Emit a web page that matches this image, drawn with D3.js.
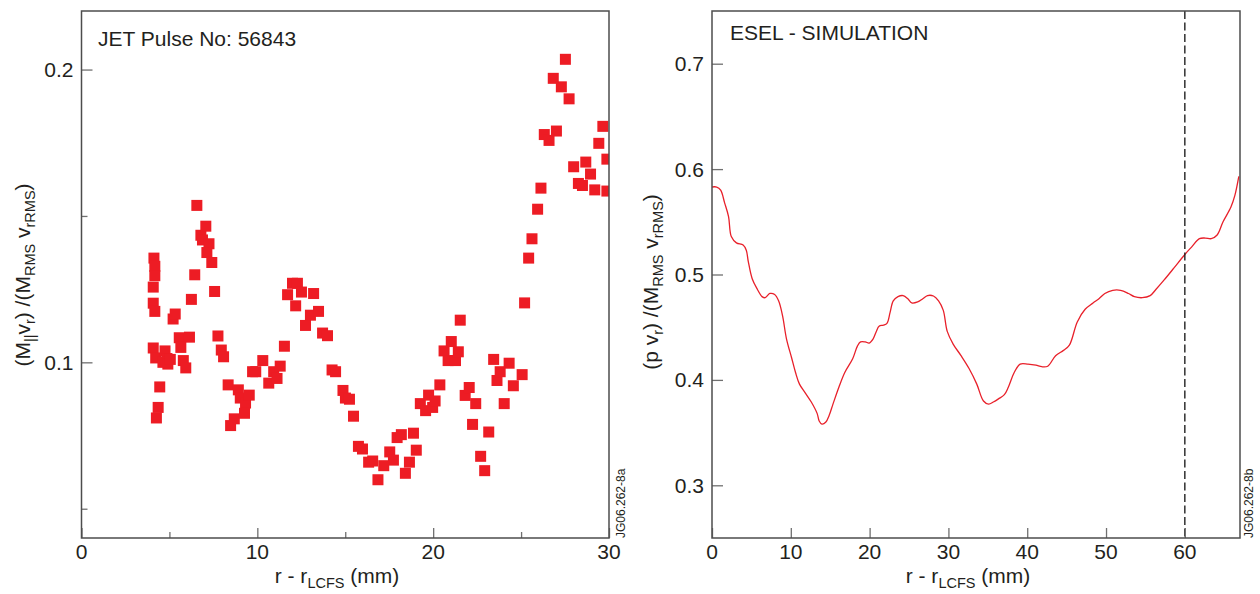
<!DOCTYPE html>
<html>
<head>
<meta charset="utf-8">
<script src="https://cdn.jsdelivr.net/npm/d3@7"></script>
<style>
  body { margin: 0; background: #fff; }
  svg { display: block; }
  text { font-family: "Liberation Sans", Arial, Helvetica, sans-serif; fill: #231f20; }
</style>
</head>
<body>
<svg id="chart" width="1260" height="594"></svg>
<script>
// JET probe measurement: radial position (mm) and normalised flux
const measuredR = [
  4.12, 4.17, 4.17, 4.08, 4.08, 4.17, 4.08, 4.22, 4.45, 4.36, 4.26,
  5.21, 5.33, 4.75, 4.86, 4.63, 4.91, 5.05, 5.56, 6.14, 5.65, 5.79, 5.93,
  6.25, 6.44, 6.56, 6.79, 7.07, 6.88, 7.25, 7.13, 7.41, 7.57, 7.76, 7.95, 8.08,
  8.34, 8.92, 8.69, 8.48, 9.03, 9.33, 9.54, 9.27, 9.73, 9.91, 10.31, 10.65,
  10.93, 11.12, 11.30, 11.54, 11.72, 12.00, 12.28, 12.51, 12.18, 13.20, 12.74,
  13.02, 13.48, 13.71, 13.99, 14.25, 14.45, 14.87, 15.01, 15.24, 15.47, 15.75,
  15.98, 16.33, 16.56, 16.86, 17.19, 17.53, 17.74, 17.95, 18.19, 18.42, 18.65,
  18.88, 19.04, 19.27, 19.57, 19.74, 19.97, 20.11, 20.38, 20.62, 20.85, 21.03,
  21.27, 21.43, 21.54, 21.82, 22.05, 22.42, 22.24, 22.70, 22.93, 23.16, 23.44,
  23.63, 23.81, 24.04, 24.32, 24.56, 25.06, 25.20, 25.43, 25.62, 25.94, 26.13,
  26.32, 26.59, 27.01, 26.83, 27.29, 27.52, 27.73, 27.99, 28.26, 28.49, 28.68,
  28.95, 29.19, 29.42, 29.65, 29.88, 29.88
];
const measuredV = [
  0.1356, 0.1328, 0.1296, 0.1257, 0.1202, 0.1174, 0.1049, 0.1015, 0.0916, 0.0846, 0.0810,
  0.1148, 0.1165, 0.1039, 0.1013, 0.1000, 0.0994, 0.1010, 0.1084, 0.1086, 0.1051, 0.1006, 0.0981,
  0.1215, 0.1299, 0.1536, 0.1434, 0.1465, 0.1418, 0.1405, 0.1375, 0.1341, 0.1242, 0.1090, 0.1042, 0.1019,
  0.0923, 0.0906, 0.0807, 0.0784, 0.0878, 0.0861, 0.0888, 0.0826, 0.0968, 0.0968, 0.1006, 0.0929,
  0.0968, 0.0945, 0.0987, 0.1055, 0.1231, 0.1270, 0.1270, 0.1240, 0.1193, 0.1235, 0.1126,
  0.1161, 0.1174, 0.1100, 0.1091, 0.0974, 0.0968, 0.0904, 0.0878, 0.0874, 0.0816, 0.0713,
  0.0704, 0.0659, 0.0663, 0.0599, 0.0647, 0.0694, 0.0666, 0.0743, 0.0753, 0.0621, 0.0659,
  0.0758, 0.0700, 0.0859, 0.0835, 0.0888, 0.0846, 0.0868, 0.0923, 0.1039, 0.1006, 0.1071,
  0.1006, 0.1036, 0.1144, 0.0887, 0.0914, 0.0859, 0.0788, 0.0679, 0.0630, 0.0762, 0.1010,
  0.0938, 0.0968, 0.0859, 0.0997, 0.0920, 0.0958, 0.1203, 0.1356, 0.1422, 0.1523, 0.1595,
  0.1778, 0.1758, 0.1790, 0.1970, 0.1941, 0.2035, 0.1900, 0.1668, 0.1611, 0.1604, 0.1684,
  0.1643, 0.1589, 0.1748, 0.1806, 0.1694, 0.1585
];

// ESEL simulation profile
const simR = [
  0, 0.6, 1.1, 1.6, 2.1, 2.45, 3.1, 3.95, 4.35, 4.6, 5.1, 5.75, 6.35, 6.75, 7.35, 7.95,
  8.45, 8.95, 9.45, 10.1, 10.6, 11.1, 11.85, 12.6, 13.35, 13.6, 13.95, 14.45, 14.85,
  15.35, 16.1, 16.85, 17.85, 18.45, 18.85, 19.45, 19.95, 20.45, 20.85, 21.2, 21.75,
  22.2, 22.6, 23.0, 23.6, 24.25, 24.85, 25.35, 26.1, 26.75, 27.35, 28.1, 28.75, 29.35,
  29.85, 30.6, 31.6, 32.6, 33.6, 34.45, 35.1, 35.7, 36.35, 37.1, 37.6, 38.35, 39.1,
  40.1, 41.1, 41.85, 42.6, 43.6, 44.6, 45.35, 46.35, 47.35, 48.35, 49.1, 49.85, 50.85,
  51.85, 52.85, 53.6, 54.6, 55.6, 56.35, 57.35, 58.6, 60.0, 60.85, 61.85, 62.6, 63.35,
  64.1, 64.85, 65.85, 66.35, 66.85
];
const simV = [
  0.583, 0.583, 0.580, 0.568, 0.555, 0.536, 0.530, 0.528, 0.523, 0.5125, 0.496, 0.486,
  0.479, 0.478, 0.482, 0.481, 0.475, 0.461, 0.439, 0.421, 0.407, 0.396, 0.3875, 0.379,
  0.368, 0.361, 0.358, 0.360, 0.366, 0.377, 0.393, 0.407, 0.420, 0.432, 0.436, 0.436,
  0.435, 0.439, 0.446, 0.451, 0.452, 0.4536, 0.464, 0.475, 0.479, 0.480, 0.477, 0.473,
  0.474, 0.477, 0.480, 0.4796, 0.475, 0.466, 0.446, 0.434, 0.423, 0.411, 0.396, 0.380,
  0.377, 0.379, 0.382, 0.386, 0.393, 0.407, 0.415, 0.415, 0.414, 0.4125, 0.413, 0.423,
  0.428, 0.433, 0.455, 0.467, 0.473, 0.477, 0.482, 0.485, 0.485, 0.482, 0.479, 0.478,
  0.480, 0.486, 0.4946, 0.506, 0.519, 0.526, 0.534, 0.5346, 0.534, 0.5375, 0.550, 0.564,
  0.575, 0.593
];
const separatrixR = 60;

// Tick positions and labels
const leftXMajor = [0, 10, 20, 30];
const leftXMinor = [5, 15, 25];
const leftYMajor = [0.1, 0.2];
const leftYMinor = [0.05, 0.15];
const rightXMajor = [0, 10, 20, 30, 40, 50, 60];
const rightYMajor = [0.3, 0.4, 0.5, 0.6, 0.7];

const svg = d3.select("#chart");
const RED = "#ed1c24";
const FRAME = "#4d4d4d";
const TICK = "#707070";

const plotTop = 11, plotBottom = 538;
const leftPanel = { x0: 81.5, x1: 609, xDom: [0, 30], yDom: [0.04, 0.22] };
const rightPanel = { x0: 712, x1: 1240, xDom: [0, 67], yDom: [0.25, 0.75] };

function makeScales(p) {
  return {
    x: d3.scaleLinear().domain(p.xDom).range([p.x0, p.x1]),
    y: d3.scaleLinear().domain(p.yDom).range([plotBottom, plotTop])
  };
}

// Inward ticks along bottom and left frame edges, plus tick labels
function drawAxes(s, xMajor, xMinor, yMajor, yMinor, yFmt) {
  const g = svg.append("g");
  const xb = d3.axisTop(s.x).tickValues(xMajor).tickSize(10).tickFormat("");
  const xm = d3.axisTop(s.x).tickValues(xMinor).tickSize(6).tickFormat("");
  const yb = d3.axisRight(s.y).tickValues(yMajor).tickSize(11).tickFormat("");
  const ym = d3.axisRight(s.y).tickValues(yMinor).tickSize(6).tickFormat("");
  [[xb, `translate(0,${plotBottom})`], [xm, `translate(0,${plotBottom})`],
   [yb, `translate(${s.x.range()[0]},0)`], [ym, `translate(${s.x.range()[0]},0)`]]
    .forEach(([ax, tr]) => {
      const a = g.append("g").attr("transform", tr).call(ax);
      a.select(".domain").remove();
      a.selectAll("line").attr("stroke", TICK).attr("stroke-width", 1.3);
    });
  g.selectAll(".xl").data(xMajor).join("text")
    .attr("x", d => s.x(d)).attr("y", plotBottom + 21)
    .attr("text-anchor", "middle").attr("font-size", 21)
    .text(d => d);
  g.selectAll(".yl").data(yMajor).join("text")
    .attr("x", s.x.range()[0] - 8).attr("y", d => s.y(d)).attr("dy", "0.36em")
    .attr("text-anchor", "end").attr("font-size", 21)
    .text(yFmt);
  // frame
  g.append("rect")
    .attr("x", s.x.range()[0]).attr("y", plotTop)
    .attr("width", s.x.range()[1] - s.x.range()[0]).attr("height", plotBottom - plotTop)
    .attr("fill", "none").attr("stroke", FRAME).attr("stroke-width", 1.5);
}

// Text with subscripts; parts: [string, isSub]
function richText(sel, parts, size, subSize, shift) {
  let down = false;
  parts.forEach(([str, sub]) => {
    const t = sel.append("tspan").text(str);
    if (sub) {
      t.attr("font-size", subSize).attr("dy", down ? 0 : shift);
      down = true;
    } else {
      t.attr("font-size", size).attr("dy", down ? -shift : 0);
      down = false;
    }
  });
}

function xTitle(cx) {
  const t = svg.append("text").attr("x", cx).attr("y", 583).attr("text-anchor", "middle");
  richText(t, [["r - r", false], ["LCFS", true], [" (mm)", false]], 21, 14.5, 5);
}

function yTitle(x, cy, parts) {
  const t = svg.append("text")
    .attr("transform", `translate(${x},${cy}) rotate(-90)`)
    .attr("text-anchor", "middle");
  richText(t, parts, 21, 14.5, 5);
}

function figId(x, label) {
  svg.append("text")
    .attr("transform", `translate(${x},${plotBottom}) rotate(-90)`)
    .attr("font-size", 12).attr("fill", "#333")
    .text(label);
}

// ---------- Left panel: measured scatter ----------
const sL = makeScales(leftPanel);
svg.append("clipPath").attr("id", "clipL").append("rect")
  .attr("x", leftPanel.x0).attr("y", plotTop)
  .attr("width", leftPanel.x1 - leftPanel.x0).attr("height", plotBottom - plotTop);
const pts = measuredR.map((r, i) => ({ r, v: measuredV[i] }));
const MS = 11;
svg.append("g").attr("clip-path", "url(#clipL)")
  .selectAll("rect").data(pts).join("rect")
  .attr("x", d => sL.x(d.r) - MS / 2).attr("y", d => sL.y(d.v) - MS / 2)
  .attr("width", MS).attr("height", MS).attr("fill", RED);
drawAxes(sL, leftXMajor, leftXMinor, leftYMajor, leftYMinor, d3.format(".1f"));
svg.append("text").attr("x", 98).attr("y", 46).attr("font-size", 21).text("JET Pulse No: 56843");
xTitle(337);
yTitle(30, 275, [["(M", false], ["||", true], ["v", false], ["r", true], [") /(M", false],
                 ["RMS", true], [" v", false], ["rRMS", true], [")", false]]);
figId(625, "JG06.262-8a");

// ---------- Right panel: ESEL simulation ----------
const sR = makeScales(rightPanel);
svg.append("clipPath").attr("id", "clipR").append("rect")
  .attr("x", rightPanel.x0).attr("y", plotTop)
  .attr("width", rightPanel.x1 - rightPanel.x0).attr("height", plotBottom - plotTop);
const simPts = simR.map((r, i) => [r, simV[i]]);
svg.append("path").attr("clip-path", "url(#clipR)")
  .datum(simPts)
  .attr("d", d3.line().x(d => sR.x(d[0])).y(d => sR.y(d[1])).curve(d3.curveCatmullRom.alpha(0.5)))
  .attr("fill", "none").attr("stroke", "#e8202a").attr("stroke-width", 1.3);
svg.append("line")
  .attr("x1", sR.x(separatrixR)).attr("x2", sR.x(separatrixR))
  .attr("y1", plotTop).attr("y2", plotBottom)
  .attr("stroke", "#222").attr("stroke-width", 1.4).attr("stroke-dasharray", "8,3.5");
drawAxes(sR, rightXMajor, [], rightYMajor, [], d3.format(".1f"));
svg.append("text").attr("x", 730).attr("y", 40).attr("font-size", 21).text("ESEL - SIMULATION");
xTitle(968);
yTitle(658, 282, [["(p v", false], ["r", true], [") /(M", false],
                  ["RMS", true], [" v", false], ["rRMS", true], [")", false]]);
figId(1253, "JG06.262-8b");
</script>
</body>
</html>
